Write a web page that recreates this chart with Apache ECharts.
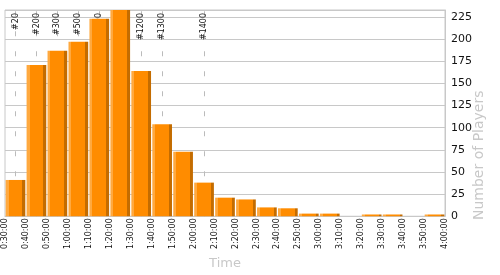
<!DOCTYPE html>
<html>
<head>
<meta charset="utf-8">
<script src="https://cdn.jsdelivr.net/npm/echarts@6/dist/echarts.min.js"></script>
<style>
  html, body { margin: 0; padding: 0; background: #fff; }
  #chart { width: 500px; height: 275px; }
</style>
</head>
<body>
<div id="chart"></div>
<script>
// Buckets (start of each 10-minute bin)
const categories = ['0:30:00','0:40:00','0:50:00','1:00:00','1:10:00','1:20:00','1:30:00','1:40:00','1:50:00','2:00:00','2:10:00','2:20:00','2:30:00','2:40:00','2:50:00','3:00:00','3:10:00','3:20:00','3:30:00','3:40:00','3:50:00'];
// Number of players per bucket
const players = [41, 171, 187, 197, 223, 233, 164, 104, 73, 38, 21, 19, 10, 9, 3, 3, 0, 2, 2, 0, 2];
// X tick labels at bin boundaries (minutes 30..240)
const xTickLabels = ['0:30:00','0:40:00','0:50:00','1:00:00','1:10:00','1:20:00','1:30:00','1:40:00','1:50:00','2:00:00','2:10:00','2:20:00','2:30:00','2:40:00','2:50:00','3:00:00','3:10:00','3:20:00','3:30:00','3:40:00','3:50:00','4:00:00'];
const xTickMinutes = [30, 240, 10]; // min, max, step
// Rank markers: bucket index and label
const markerIdx = [0, 1, 2, 3, 4, 6, 7, 9];
const markerNames = ['#20', '#200', '#300', '#500', '#1000', '#1200', '#1300', '#1400'];
const yMax = 233;

const FONT = 'DejaVu Sans';
const chart = echarts.init(document.getElementById('chart'), null, { renderer: 'canvas' });

const barColor = new echarts.graphic.LinearGradient(0, 0, 1, 0, [
  { offset: 0, color: '#FFA93F' },
  { offset: 0.15, color: '#FFA93F' },
  { offset: 0.15, color: '#FF8C00' },
  { offset: 0.85, color: '#FF8C00' },
  { offset: 0.85, color: '#C46C00' },
  { offset: 1, color: '#C46C00' }
]);

chart.setOption({
  animation: false,
  backgroundColor: '#fff',
  grid: {
    left: 5, right: 55, top: 10, bottom: 55,
    show: true, borderColor: '#c8c8c8', borderWidth: 1, backgroundColor: 'transparent'
  },
  xAxis: [
    {
      type: 'category',
      data: categories,
      show: false,
      boundaryGap: true
    },
    {
      type: 'value',
      position: 'bottom',
      min: xTickMinutes[0], max: xTickMinutes[1], interval: xTickMinutes[2],
      axisLine: { show: true, lineStyle: { color: '#c8c8c8', width: 1 } },
      axisTick: { show: false },
      splitLine: { show: false },
      axisLabel: {
        rotate: 90, margin: 2, fontSize: 8, color: '#111', fontFamily: FONT,
        showMinLabel: true, showMaxLabel: true,
        formatter: function (v) { return xTickLabels[Math.round((v - xTickMinutes[0]) / xTickMinutes[2])] || ''; }
      },
      name: 'Time', nameLocation: 'middle', nameGap: 36,
      nameTextStyle: { color: '#c8c8c8', fontSize: 13, fontFamily: FONT }
    }
  ],
  yAxis: {
    type: 'value',
    position: 'right',
    min: 0, max: yMax, interval: 25,
    axisLine: { show: true, lineStyle: { color: '#c8c8c8', width: 1 } },
    axisTick: { show: false },
    splitLine: { show: true, lineStyle: { color: '#c8c8c8', width: 1 } },
    axisLabel: {
      margin: 6, fontSize: 11, color: '#111', fontFamily: FONT,
      formatter: function (v) { return v % 25 === 0 ? String(v) : ''; }
    }
  },
  graphic: [{
    type: 'text',
    x: 479, y: 220,
    rotation: Math.PI / 2,
    style: {
      text: 'Number of Players',
      fill: '#c8c8c8',
      font: '14px "DejaVu Sans"',
      align: 'left', verticalAlign: 'middle'
    },
    silent: true
  }],
  series: [{
    type: 'bar',
    xAxisIndex: 0,
    yAxisIndex: 0,
    data: players,
    barCategoryGap: '6%',
    z: 2,
    itemStyle: { color: barColor },
    silent: true,
    markLine: {
      z: 1,
      silent: true,
      symbol: ['none', 'none'],
      lineStyle: { type: [5, 15], color: '#bbbbbb', width: 1 },
      label: {
        show: true, position: 'insideEnd', distance: 3,
        formatter: '{b}', fontSize: 8, color: '#111', fontFamily: FONT
      },
      data: markerIdx.map(function (idx, i) { return { xAxis: idx, name: markerNames[i] }; })
    }
  }]
});
</script>
</body>
</html>
